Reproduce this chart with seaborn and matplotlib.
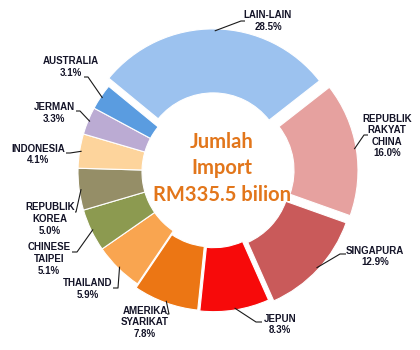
import math
import matplotlib
matplotlib.use("Agg")
import matplotlib.pyplot as plt
import seaborn as sns

# ---------------- data ----------------
names = ["LAIN-LAIN", "REPUBLIK\nRAKYAT\nCHINA", "SINGAPURA", "JEPUN",
         "AMERIKA\nSYARIKAT", "THAILAND", "CHINESE\nTAIPEI", "REPUBLIK\nKOREA",
         "INDONESIA", "JERMAN", "AUSTRALIA"]
shares = [28.5, 16.0, 12.9, 8.3, 7.8, 5.9, 5.1, 5.0, 4.1, 3.3, 3.1]
center_lines = ["Jumlah", "Import", "RM335.5 bilion"]

# ---------------- style ----------------
colors = ["#9CC2EF", "#E6A19F", "#C95A5A", "#F70A0A", "#EC7614", "#F9A550",
          "#8C9A50", "#958E67", "#FDD49C", "#BBABD3", "#5A9CE0"]
explode_frac = [0.06, 0.075, 0.06, 0.035, 0.03, 0, 0, 0, 0, 0, 0]

sns.set_theme(style="white")
plt.rcParams["font.family"] = ["Liberation Sans", "DejaVu Sans"]

W, H = 420, 350
fig = plt.figure(figsize=(4.2, 3.5), dpi=100)
ax = fig.add_axes([0, 0, 1, 1])

CX, CY = 213, 172          # pixel coords (y down)
R, RIN = 135, 71


def P(x, y):
    return x, H - y


wedges, _ = ax.pie(shares, colors=colors, startangle=140.6, counterclock=False,
                   radius=R, center=P(CX, CY),
                   wedgeprops=dict(width=R - RIN, edgecolor="white", linewidth=0.8))

# explode wedges (fraction of radius)
for w, ex in zip(wedges, explode_frac):
    th = math.radians((w.theta1 + w.theta2) / 2)
    cx, cy = P(CX, CY)
    w.set_center((cx + ex * R * math.cos(th), cy + ex * R * math.sin(th)))

# label layout (pixel coords): text centre x, first line centre y, elbow, tail
layout = [
    (268, 16, (241, 21), (245, 21)),
    (387, 119, (364, 135), (368, 135)),
    (375, 251, (340, 254), (346, 254)),
    (280, 319, (256, 322), (262, 322)),
    (145, 311, (169, 314), (167, 314)),
    (88, 284, (118, 288), (113, 288)),
    (49, 248, (77, 252), (72, 252)),
    (50, 208, (76, 212), (75, 212)),
    (38, 149, (70, 153), (66, 153)),
    (54, 108, (80, 111), (76, 111)),
    (71, 62, (88, 77), (84, 77)),
]

for w, name, share, (tx, ty, elbow, tail) in zip(wedges, names, shares, layout):
    th = math.radians((w.theta1 + w.theta2) / 2)
    ax0 = w.center[0] + (w.r - 2) * math.cos(th)
    ay0 = w.center[1] + (w.r - 2) * math.sin(th)
    ex, ey = P(*elbow)
    tx2, ty2 = P(*tail)
    ax.plot([ax0, ex, tx2], [ay0, ey, ty2], color="#1a1a1a", lw=0.8,
            solid_capstyle="butt")
    ax.text(*P(tx, ty - 5.5), f"{name}\n{share:.1f}%", ha="center", va="top",
            fontsize=7, fontweight="bold", color="#141428", linespacing=1.2)

for line, y in zip(center_lines, [142, 168, 195]):
    ax.text(*P(222, y), line, ha="center", va="center", fontsize=14.5,
            fontweight="bold", color="#E2761B", family=["Lato", "DejaVu Sans"])

ax.set_xlim(0, W)
ax.set_ylim(0, H)
ax.set_aspect("equal")
ax.axis("off")
fig.savefig("out.png", dpi=100)
